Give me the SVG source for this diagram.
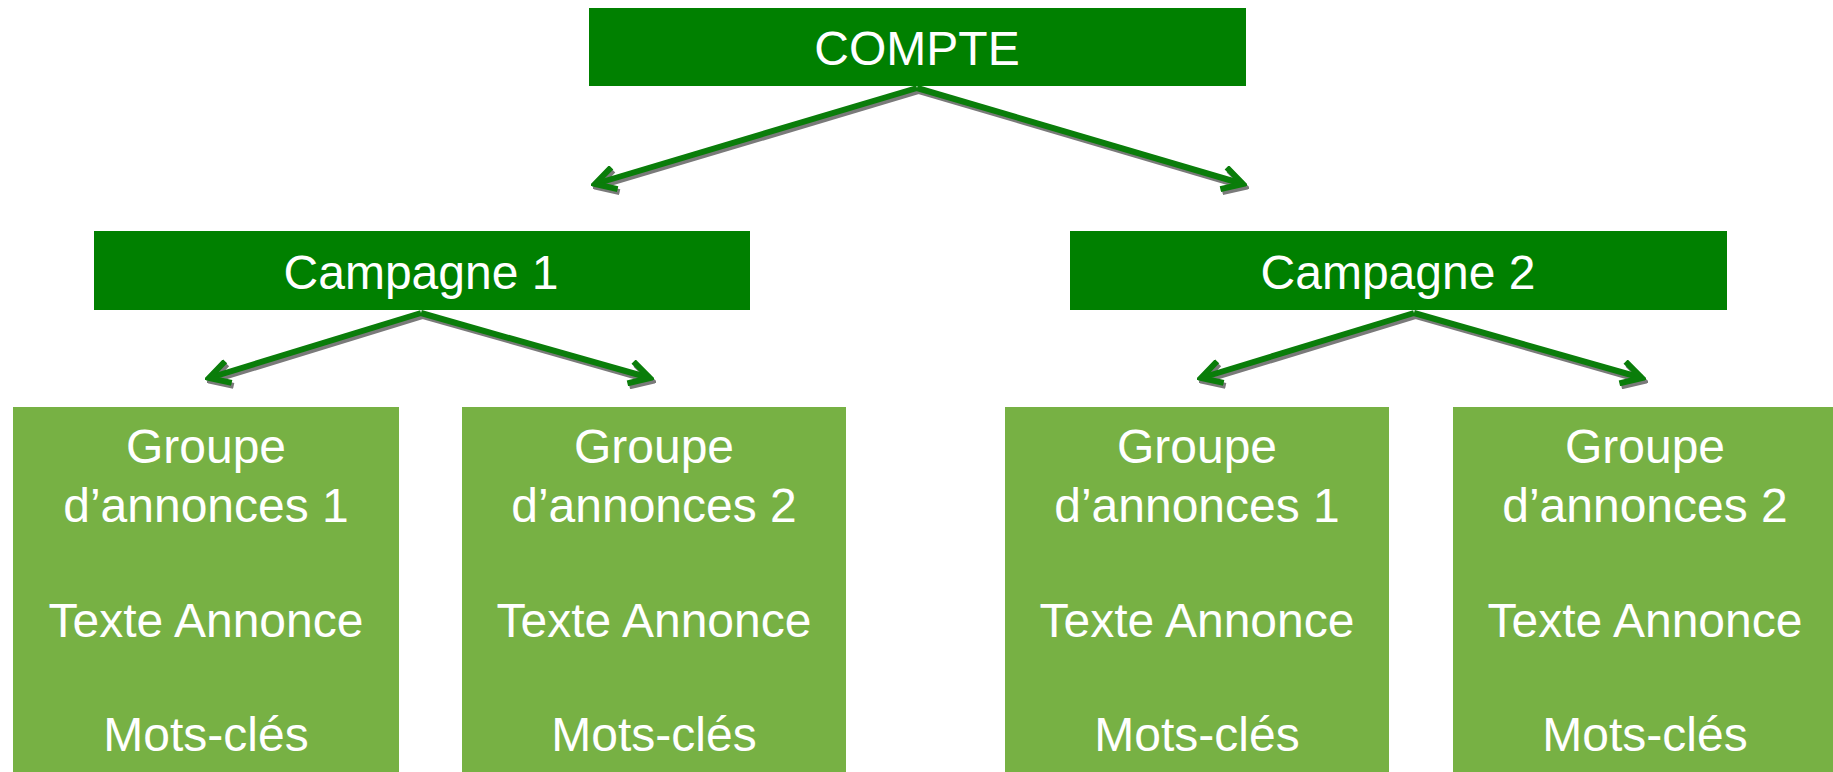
<svg xmlns="http://www.w3.org/2000/svg" width="1833" height="772" viewBox="0 0 1833 772">
<defs>
<style>
.top{fill:#008000}
.leaf{fill:#77B144}
.t{font-family:"Liberation Sans",Arial,sans-serif;font-size:48px;fill:#ffffff;text-anchor:middle}
.sh{fill:none;stroke:#7a7a7a;stroke-width:6;stroke-linejoin:miter}
.ar{fill:none;stroke:#0a7d0a;stroke-width:6;stroke-linejoin:miter}
</style>
<marker id="ah" viewBox="0 0 10 10" refX="8.5" refY="5" markerWidth="4.5" markerHeight="4.5" orient="auto" markerUnits="strokeWidth">
<path d="M1,0.8 L8.5,5 L1,9.2" fill="none" stroke="#0a7d0a" stroke-width="2.2" stroke-linejoin="miter"/>
</marker>
<marker id="ahs" viewBox="0 0 10 10" refX="8.5" refY="5" markerWidth="4.5" markerHeight="4.5" orient="auto" markerUnits="strokeWidth">
<path d="M1,0.8 L8.5,5 L1,9.2" fill="none" stroke="#7a7a7a" stroke-width="2.2" stroke-linejoin="miter"/>
</marker>
</defs>
<rect width="1833" height="772" fill="#ffffff"/>
<g id="connectors">
<g transform="translate(2,3)">
<path class="sh" d="M917,88 L595,184" marker-end="url(#ahs)"/>
<path class="sh" d="M917,88 L1243,184" marker-end="url(#ahs)"/>
<path class="sh" d="M421,313 L209,378" marker-end="url(#ahs)"/>
<path class="sh" d="M421,313 L650,378" marker-end="url(#ahs)"/>
<path class="sh" d="M1414,313 L1201,378" marker-end="url(#ahs)"/>
<path class="sh" d="M1414,313 L1642,378" marker-end="url(#ahs)"/>
</g>
<path class="ar" d="M917,88 L595,184" marker-end="url(#ah)"/>
<path class="ar" d="M917,88 L1243,184" marker-end="url(#ah)"/>
<path class="ar" d="M421,313 L209,378" marker-end="url(#ah)"/>
<path class="ar" d="M421,313 L650,378" marker-end="url(#ah)"/>
<path class="ar" d="M1414,313 L1201,378" marker-end="url(#ah)"/>
<path class="ar" d="M1414,313 L1642,378" marker-end="url(#ah)"/>
</g>
<g id="compte">
<rect class="top" x="589" y="8" width="657" height="78"/>
<text class="t" x="917" y="65">COMPTE</text>
</g>
<g id="campagne1">
<rect class="top" x="94" y="231" width="656" height="79"/>
<text class="t" x="421" y="289">Campagne 1</text>
</g>
<g id="campagne2">
<rect class="top" x="1070" y="231" width="657" height="79"/>
<text class="t" x="1398" y="289">Campagne 2</text>
</g>
<g id="groupe1a">
<rect class="leaf" x="13" y="407" width="386" height="365"/>
<text class="t" x="206" y="463">Groupe</text>
<text class="t" x="206" y="522">d’annonces 1</text>
<text class="t" x="206" y="637">Texte Annonce</text>
<text class="t" x="206" y="751">Mots-clés</text>
</g>
<g id="groupe2a">
<rect class="leaf" x="462" y="407" width="384" height="365"/>
<text class="t" x="654" y="463">Groupe</text>
<text class="t" x="654" y="522">d’annonces 2</text>
<text class="t" x="654" y="637">Texte Annonce</text>
<text class="t" x="654" y="751">Mots-clés</text>
</g>
<g id="groupe1b">
<rect class="leaf" x="1005" y="407" width="384" height="365"/>
<text class="t" x="1197" y="463">Groupe</text>
<text class="t" x="1197" y="522">d’annonces 1</text>
<text class="t" x="1197" y="637">Texte Annonce</text>
<text class="t" x="1197" y="751">Mots-clés</text>
</g>
<g id="groupe2b">
<rect class="leaf" x="1453" y="407" width="380" height="365"/>
<text class="t" x="1645" y="463">Groupe</text>
<text class="t" x="1645" y="522">d’annonces 2</text>
<text class="t" x="1645" y="637">Texte Annonce</text>
<text class="t" x="1645" y="751">Mots-clés</text>
</g>
</svg>
